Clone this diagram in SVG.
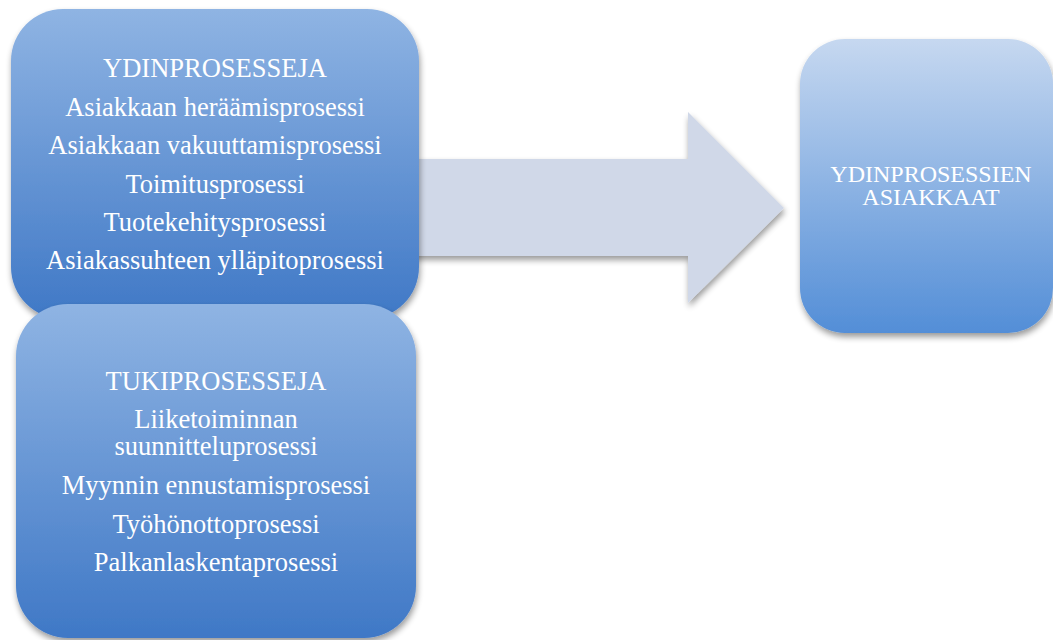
<svg xmlns="http://www.w3.org/2000/svg" width="1053" height="640" viewBox="0 0 1053 640">
<defs>
<linearGradient id="gBlue" x1="0" y1="0" x2="0" y2="1">
<stop offset="0" stop-color="#8fb4e3"/>
<stop offset="1" stop-color="#3f78c6"/>
</linearGradient>
<linearGradient id="gLight" x1="0" y1="0" x2="0" y2="1">
<stop offset="0" stop-color="#c6d8f0"/>
<stop offset="1" stop-color="#538ed7"/>
</linearGradient>
<filter id="sh" x="-10%" y="-10%" width="125%" height="125%">
<feGaussianBlur in="SourceAlpha" stdDeviation="3"/>
<feOffset dx="1" dy="4" result="b"/>
<feComponentTransfer><feFuncA type="linear" slope="0.4"/></feComponentTransfer>
<feMerge><feMergeNode/><feMergeNode in="SourceGraphic"/></feMerge>
</filter>
</defs>
<style>
text{font-family:"Liberation Serif","Times New Roman",serif;fill:#ffffff;text-anchor:middle}
.l{font-size:26.5px}
.r{font-size:24px}
</style>
<rect width="1053" height="640" fill="#ffffff"/>
<g id="connectors">
<path d="M400,159 L688,159 L688,112 L784,208 L688,303 L688,256 L400,256 Z" fill="#d0d8e8" filter="url(#sh)"/>
</g>
<g id="ydinprosesseja">
<rect x="11" y="9" width="408" height="310" rx="52" fill="url(#gBlue)" filter="url(#sh)"/>
<text class="l" x="215" y="77">YDINPROSESSEJA</text>
<text class="l" x="215" y="116">Asiakkaan heräämisprosessi</text>
<text class="l" x="215" y="154">Asiakkaan vakuuttamisprosessi</text>
<text class="l" x="215" y="193">Toimitusprosessi</text>
<text class="l" x="215" y="231">Tuotekehitysprosessi</text>
<text class="l" x="215" y="269">Asiakassuhteen ylläpitoprosessi</text>
</g>
<g id="tukiprosesseja">
<rect x="16" y="304" width="400" height="334" rx="52" fill="url(#gBlue)" filter="url(#sh)"/>
<text class="l" x="216" y="390">TUKIPROSESSEJA</text>
<text class="l" x="216" y="428">Liiketoiminnan</text>
<text class="l" x="216" y="455">suunnitteluprosessi</text>
<text class="l" x="216" y="494">Myynnin ennustamisprosessi</text>
<text class="l" x="216" y="533">Työhönottoprosessi</text>
<text class="l" x="216" y="571">Palkanlaskentaprosessi</text>
</g>
<g id="asiakkaat">
<rect x="800" y="39" width="253" height="294" rx="45" fill="url(#gLight)" filter="url(#sh)"/>
<text class="r" x="931" y="182">YDINPROSESSIEN</text>
<text class="r" x="931" y="205">ASIAKKAAT</text>
</g>
</svg>
